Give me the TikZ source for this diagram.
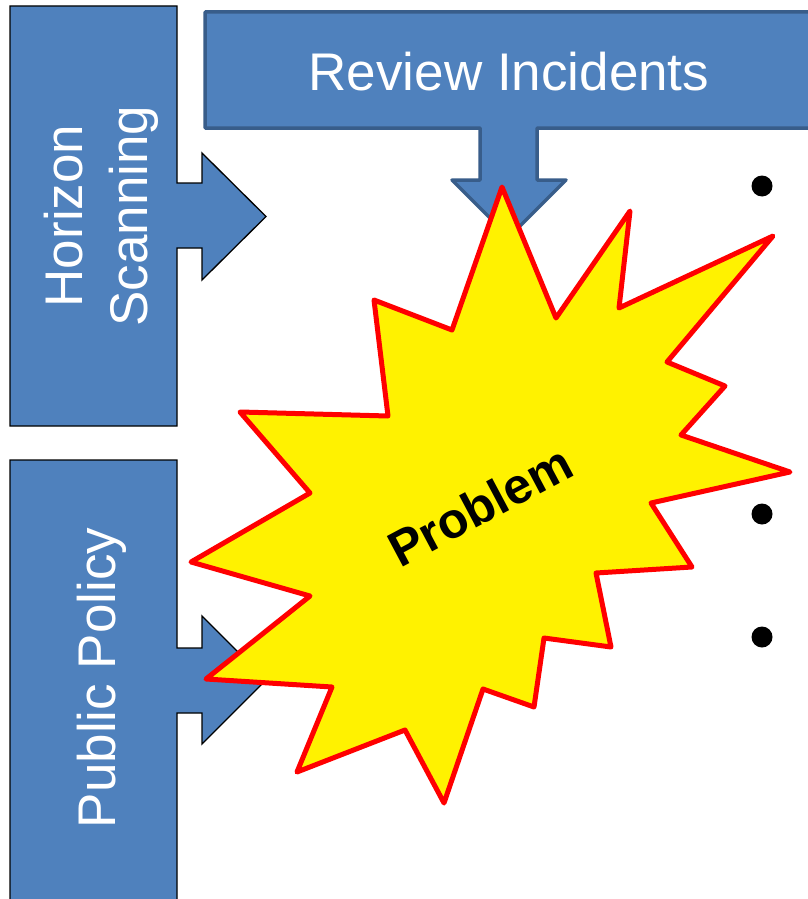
\documentclass[tikz,border=0pt]{standalone}
\usepackage{fontspec}
\setmainfont{Liberation Sans}
\definecolor{boxblue}{HTML}{4F81BD}
\definecolor{edgeblue}{HTML}{385D8A}
\tikzset{
  sidebox/.style={fill=boxblue, draw=black, line width=1.3pt},
  topbox/.style={fill=boxblue, draw=edgeblue, line width=3.5pt, line join=round},
  burst/.style={fill=yellow, draw=red, line width=5pt, line join=round},
  boxtext/.style={text=white, font=\fontsize{53}{64}\selectfont, inner sep=0pt},
  dotmark/.style={circle, fill=black, inner sep=0pt, minimum size=21pt}
}
\begin{document}
\begin{tikzpicture}[x=1pt, y=-1pt]
\useasboundingbox (0,0) rectangle (808,899);
\clip (0,0) rectangle (808,899);
\fill[white] (0,0) rectangle (808,899);
% Horizon Scanning
\draw[sidebox] (10,6) -- (177,6) -- (177,183) -- (202,183) -- (202,153) -- (266,216.5) -- (202,280) -- (202,248) -- (177,248) -- (177,426) -- (10,426) -- cycle;
\node[boxtext, rotate=90, anchor=base] (hs1) at (82,216) {Horizon};
\node[boxtext, rotate=90, anchor=base] (hs2) at (147,216) {Scanning};
% Review Incidents
\draw[topbox] (205,12) -- (840,12) -- (840,128) -- (537,128) -- (537,180) -- (566,180) -- (509,237) -- (452,180) -- (480,180) -- (480,128) -- (205,128) -- cycle;
\node[boxtext, anchor=base] (ri) at (509,90) {Review Incidents};
% Public Policy
\draw[sidebox] (10,460) -- (177,460) -- (177,648) -- (202,648) -- (202,616) -- (266,680) -- (202,744) -- (202,713) -- (177,713) -- (177,930) -- (10,930) -- cycle;
\node[boxtext, rotate=90, anchor=base] (pp) at (115,678) {Public Policy};
% Problem starburst
\draw[burst] (502,187) -- (556,318) -- (630,211) -- (619,308) -- (773,236) -- (667,362) -- (725,386) -- (681,435) -- (790,472) -- (651,503) -- (692,567) -- (596,573) -- (611,647) -- (544,638) -- (534,707) -- (483,689) -- (444,803) -- (405,730) -- (297,772) -- (332,687) -- (206,679) -- (310,596) -- (191,562) -- (310,493) -- (240,412) -- (388,416) -- (374,300) -- (452,330) -- cycle;
\node[rotate=28, inner sep=0pt, font=\fontsize{50}{60}\selectfont\bfseries] (prob) at (480,506) {Problem};
% bullets
\node[dotmark] (b1) at (762,186) {};
\node[dotmark] (b2) at (762,514) {};
\node[dotmark] (b3) at (762,637) {};
\end{tikzpicture}
\end{document}
